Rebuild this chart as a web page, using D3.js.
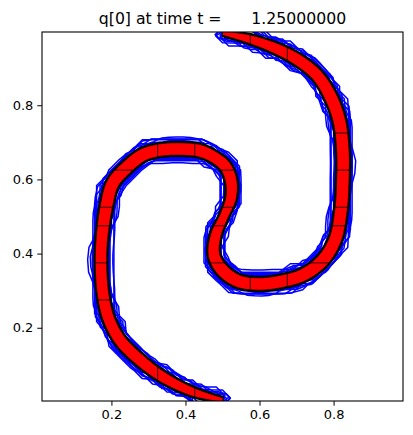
<!DOCTYPE html>
<html><head><meta charset="utf-8">
<script src="https://cdn.jsdelivr.net/npm/d3@7"></script>
<style>body{margin:0;background:#fff}svg{display:block}text{font-family:"DejaVu Sans",sans-serif}</style>
</head><body><svg id="c" width="413" height="435"></svg>
<script>
// ---- data ----
const titleText = "q[0] at time t =      1.25000000";
const xTicks = [0.2, 0.4, 0.6, 0.8];
const yTicks = [0.2, 0.4, 0.6, 0.8];
// centerline of the tracer band (data coords) and its half-width
const centerX = [0.501,0.420,0.339,0.277,0.223,0.191,0.177,0.172,0.174,0.188,0.204,0.242,0.285,0.331,0.385,0.439,0.477,0.507,0.523,0.523,0.504,0.482,0.477,0.499,0.542,0.601,0.663,0.717,0.769,0.804,0.820,0.825,0.825,0.815,0.790,0.755,0.704,0.642,0.574,0.499];
const centerY = [0.005,0.027,0.067,0.113,0.167,0.229,0.294,0.364,0.437,0.536,0.590,0.633,0.666,0.679,0.682,0.677,0.660,0.636,0.598,0.550,0.501,0.450,0.396,0.356,0.326,0.318,0.326,0.342,0.380,0.437,0.517,0.598,0.679,0.760,0.827,0.881,0.922,0.954,0.978,0.995];
const halfW = [0.0058,0.0115,0.0142,0.0155,0.0155,0.0155,0.0155,0.0155,0.0155,0.0168,0.0168,0.0168,0.0168,0.0168,0.0168,0.0168,0.0155,0.0155,0.0155,0.0142,0.0115,0.0142,0.0155,0.0168,0.0168,0.0168,0.0168,0.0168,0.0168,0.0168,0.0168,0.0168,0.0168,0.0168,0.0168,0.0155,0.0155,0.0142,0.0115,0.0058];
// patch edge lines drawn inside the band
const xEdges = [0.325, 0.425, 0.575, 0.675];
const yEdges = [0.275, 0.375, 0.475, 0.525, 0.625, 0.725];
// contour grids (cells per unit) and contour levels
const gridSizes = [30, 37, 44, 52];
const contourLevels = [0.3, 0.7];

// ---- layout ----
const L = 42, R = 403, T = 32, B = 401;
const svg = d3.select('#c');
const x = d3.scaleLinear().domain([0.0125, 0.9875]).range([L, R]);
const y = d3.scaleLinear().domain([0.0025, 0.9975]).range([B, T]);

svg.append('defs').append('clipPath').attr('id','ax')
  .append('rect').attr('x',L).attr('y',T).attr('width',R-L).attr('height',B-T);
const plot = svg.append('g').attr('clip-path','url(#ax)');

// smooth centerline in pixel space
const ctrl = centerX.map((v,i)=>[x(v), y(centerY[i])]);
const cl = d3.line().curve(d3.curveCatmullRom.alpha(0.5));
const tmp = svg.append('path').attr('d', cl(ctrl)).attr('fill','none');
const node = tmp.node();
const total = node.getTotalLength();
const cum = [0];
for (let i=1;i<ctrl.length;i++) cum.push(cum[i-1] + Math.hypot(ctrl[i][0]-ctrl[i-1][0], ctrl[i][1]-ctrl[i-1][1]));
const hwAt = d3.scaleLinear().domain(cum.map(c=>c/cum[cum.length-1])).range(halfW.map(h=>x(h)-x(0))).clamp(true);
const samples = [];
const step = 1.5;
for (let s=0; s<=total; s+=step) {
  const p = node.getPointAtLength(s);
  samples.push({x:p.x, y:p.y, hw: hwAt(s/total)});
}
tmp.remove();
samples.forEach((p,i)=>{
  const a = samples[Math.max(0,i-1)], b = samples[Math.min(samples.length-1,i+1)];
  const dx = b.x-a.x, dy = b.y-a.y, len = Math.hypot(dx,dy)||1;
  p.nx = -dy/len; p.ny = dx/len;
});

// ---- blue contours from a gridded band field ----
const pxPerUnit = x(1)-x(0);
const samplesData = samples.map(p=>({x:x.invert(p.x), y:y.invert(p.y), hw:p.hw/pxPerUnit}));
const offA = 0.0015, rampB = 0.010;
gridSizes.forEach(n=>{
  const vals = new Float64Array(n*n);
  for (let j=0;j<n;j++) for (let i=0;i<n;i++) {
    const gx = (i+0.5)/n, gy = (j+0.5)/n;
    let best = 0;
    for (const p of samplesData) {
      const ddx = gx-p.x, ddy = gy-p.y;
      if (Math.abs(ddx) > 0.05 || Math.abs(ddy) > 0.05) continue;
      const d = Math.hypot(ddx, ddy);
      const q = (p.hw + offA + rampB - d)/rampB;
      if (q > best) best = q;
    }
    vals[j*n+i] = Math.min(1, best);
  }
  const cs = d3.contours().size([n,n]).thresholds(contourLevels)(Array.from(vals));
  const proj = d3.geoTransform({point(px,py){ this.stream.point(x(px/n), y(py/n)); }});
  const gp = d3.geoPath(proj);
  plot.selectAll(null).data(cs).join('path')
    .attr('d', gp).attr('fill','none').attr('stroke','#0000ff').attr('stroke-width',1.5).attr('stroke-linejoin','round');
});

// ---- band polygons ----
function bandPath(extra) {
  const left = samples.map(p=>[p.x + p.nx*(p.hw+extra), p.y + p.ny*(p.hw+extra)]);
  const right = samples.map(p=>[p.x - p.nx*(p.hw+extra), p.y - p.ny*(p.hw+extra)]).reverse();
  return d3.line()(left.concat(right)) + 'Z';
}
plot.append('path').attr('d', bandPath(2)).attr('fill','#000');
plot.append('path').attr('d', bandPath(0)).attr('fill','#ff0000').attr('stroke','#000').attr('stroke-width',0.8);
svg.select('defs').append('clipPath').attr('id','band').append('path').attr('d', bandPath(0));
const edges = plot.append('g').attr('clip-path','url(#band)');
edges.selectAll('.xe').data(xEdges).join('line')
  .attr('x1',d=>x(d)).attr('x2',d=>x(d)).attr('y1',T).attr('y2',B).attr('stroke','#000').attr('stroke-width',0.8);
edges.selectAll('.ye').data(yEdges).join('line')
  .attr('y1',d=>y(d)).attr('y2',d=>y(d)).attr('x1',L).attr('x2',R).attr('stroke','#000').attr('stroke-width',0.8);

// ---- axes ----
const fmt = d3.format('.1f');
const gx = svg.append('g').attr('transform',`translate(0,${B})`)
  .call(d3.axisBottom(x).tickValues(xTicks).tickFormat(fmt).tickSize(4.7).tickPadding(4));
const gy = svg.append('g').attr('transform',`translate(${L},0)`)
  .call(d3.axisLeft(y).tickValues(yTicks).tickFormat(fmt).tickSize(4.7).tickPadding(4));
[gx,gy].forEach(g=>{
  g.select('.domain').remove();
  g.selectAll('.tick line').attr('stroke','#000').attr('stroke-width',1);
  g.selectAll('.tick text').attr('fill','#000').style('font-size','13px').style('font-family','"DejaVu Sans"');
});
svg.append('rect').attr('x',L).attr('y',T).attr('width',R-L).attr('height',B-T)
  .attr('fill','none').attr('stroke','#000').attr('stroke-width',1.1);

svg.append('text').attr('x',(L+R)/2).attr('y',24).attr('text-anchor','middle')
  .style('font-size','15.7px').style('white-space','pre').attr('fill','#000').text(titleText);
</script></body></html>
